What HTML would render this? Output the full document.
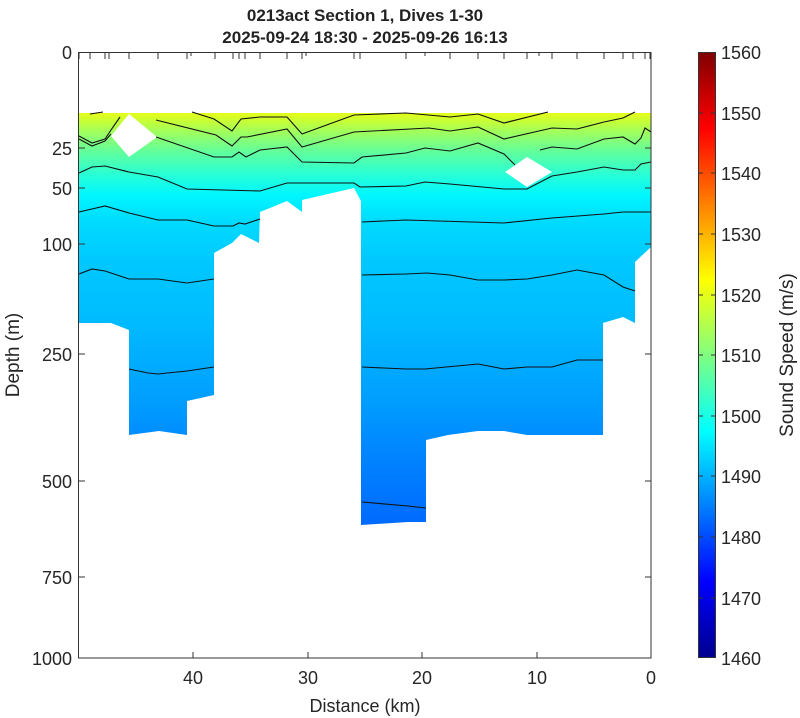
<!DOCTYPE html>
<html><head><meta charset="utf-8"><style>
body{margin:0;background:#fff;}
svg{display:block;font-family:"Liberation Sans",sans-serif;}
</style></head><body>
<svg width="800" height="718" viewBox="0 0 800 718" xmlns="http://www.w3.org/2000/svg">
<defs>
<linearGradient id="dg" gradientUnits="userSpaceOnUse" x1="0" y1="113" x2="0" y2="525">
<stop offset="0" stop-color="#e6ff18"/>
<stop offset="0.04" stop-color="#a8ff55"/>
<stop offset="0.09" stop-color="#66ff98"/>
<stop offset="0.15" stop-color="#28ffd6"/>
<stop offset="0.2" stop-color="#00f6ff"/>
<stop offset="0.26" stop-color="#00dcff"/>
<stop offset="0.36" stop-color="#00c8ff"/>
<stop offset="0.5" stop-color="#00bcff"/>
<stop offset="0.62" stop-color="#00aaff"/>
<stop offset="0.72" stop-color="#009aff"/>
<stop offset="0.82" stop-color="#0086ff"/>
<stop offset="1" stop-color="#006aff"/>
</linearGradient>
<linearGradient id="jet" x1="0" y1="1" x2="0" y2="0">
<stop offset="0" stop-color="#00008f"/>
<stop offset="0.125" stop-color="#0000ff"/>
<stop offset="0.375" stop-color="#00ffff"/>
<stop offset="0.625" stop-color="#ffff00"/>
<stop offset="0.875" stop-color="#ff0000"/>
<stop offset="1" stop-color="#800000"/>
</linearGradient>
</defs>
<text x="365" y="21" text-anchor="middle" font-size="17" font-weight="bold" fill="#222">0213act Section 1, Dives 1-30</text>
<text x="365" y="43" text-anchor="middle" font-size="17" font-weight="bold" fill="#222">2025-09-24 18:30 - 2025-09-26 16:13</text>

<path fill="url(#dg)" fill-rule="evenodd" d="M79,113 L651,113 L651,247 L635,262 L635,323 L623,317 L603,323 L603,435 L527,435 L504,431 L478,431 L448,435 L426,440 L426,522 L408,522 L361,525 L361,201 L354,188 L302,200 L302,212 L287,201 L260,212 L259,243 L241,234 L232,243 L214,253 L214,395 L187,401 L187,435 L159,431 L129,435 L129,330 L111,323 L79,323 Z
M129,114 L111,136 L129,157 L157,137 Z M527,157 L505,172 L527,187 L552,172 Z"/>

<g fill="none" stroke="#111" stroke-width="1.1">
<polyline points="90,114 103,112"/>
<polyline points="192,112 214,119 232,131 241,119 260,117 287,117 302,134 354,115 406,113 450,117 478,114 504,123 548,112"/>
<polyline points="79,136 92,143 105,139 111,130 120,117"/>
<polyline points="156,120 216,135 232,146 241,137 247,137 287,129 302,147 354,132 429,128 450,131 478,127 504,139 552,128 577,129 604,122 623,118 635,112"/>
<polyline points="79,139 92,146 105,141 111,134"/>
<polyline points="156,137 214,157 232,157 239,152 246,157 260,150 287,147 302,162 354,163 362,157 406,153 425,148 450,151 478,143 504,154 515,165"/>
<polyline points="540,150 552,147 577,149 604,139 623,137 635,144 641,138 645,128 651,132"/>
<polyline points="79,173 92,167 105,166 129,172 158,177 187,189 260,191 287,183 354,183 360,187 406,186 425,182 450,184 504,189 527,189 552,176 577,172 604,167 623,170 635,170 641,164 651,162"/>
<polyline points="79,212 105,206 129,213 158,220 187,220 214,226 233,226 239,223 245,224 260,219"/>
<polyline points="362,222 406,220 504,223 552,218 604,214 623,212 651,212"/>
<polyline points="79,274 92,269 105,271 129,279 158,279 187,283 214,279"/>
<polyline points="362,275 406,274 427,273 450,275 478,280 504,280 527,279 552,275 577,270 604,275 623,287 635,291"/>
<polyline points="129,369 148,373 158,374 187,371 214,367"/>
<polyline points="362,367 406,369 425,369 478,364 504,369 527,367 552,367 577,360 603,360"/>
<polyline points="362,502 408,506 426,508"/>
</g>

<rect x="78.5" y="52.5" width="572.5" height="605.5" fill="none" stroke="#333" stroke-width="1"/>
<g stroke="#333" stroke-width="1">
<path d="M79,52v7M90,52v7M105,52v7M109,52v7M129,52v7M158,52v7M187,52v7M191,52v4M215,52v7M233,52v7M239,52v7M245,52v7M260,52v7M287,52v7M302,52v7M306,52v4M354,52v7M360,52v7M406,52v7M425,52v4M450,52v7M478,52v7M504,52v7M527,52v7M539,52v4M552,52v7M577,52v7M604,52v7M623,52v7M633,52v7M645,52v7M650,52v7"/>
<path d="M193,658v-6M308,658v-6M422,658v-6M537,658v-6"/>
<path d="M79,148h6M79,188h6M79,244h6M79,354h6M79,481h6M79,577h6M651,148h-6M651,188h-6M651,244h-6M651,354h-6M651,481h-6M651,577h-6"/>
</g>
<g font-size="18" fill="#262626" text-anchor="end">
<text x="72" y="59">0</text><text x="72" y="155">25</text><text x="72" y="195">50</text><text x="72" y="251">100</text><text x="72" y="361">250</text><text x="72" y="488">500</text><text x="72" y="584">750</text><text x="72" y="665">1000</text>
</g>
<g font-size="18" fill="#262626" text-anchor="middle">
<text x="193" y="684">40</text><text x="308" y="684">30</text><text x="422" y="684">20</text><text x="537" y="684">10</text><text x="651" y="684">0</text>
<text x="365" y="712">Distance (km)</text>
</g>
<text transform="translate(19,355) rotate(-90)" font-size="19" fill="#262626" text-anchor="middle">Depth (m)</text>

<rect x="698.5" y="52.5" width="17" height="605" fill="url(#jet)" stroke="#333" stroke-width="1"/>
<g stroke="#333" stroke-width="1">
<path d="M699,113h4M699,173h4M699,234h4M699,295h4M699,355h4M699,416h4M699,476h4M699,537h4M699,598h4M715,113h-4M715,173h-4M715,234h-4M715,295h-4M715,355h-4M715,416h-4M715,476h-4M715,537h-4M715,598h-4"/>
</g>
<g font-size="18" fill="#262626">
<text x="721" y="59">1560</text><text x="721" y="120">1550</text><text x="721" y="180">1540</text><text x="721" y="241">1530</text><text x="721" y="302">1520</text><text x="721" y="362">1510</text><text x="721" y="423">1500</text><text x="721" y="483">1490</text><text x="721" y="544">1480</text><text x="721" y="605">1470</text><text x="721" y="665">1460</text>
</g>
<text transform="translate(793,355) rotate(-90)" font-size="19" fill="#262626" text-anchor="middle">Sound Speed (m/s)</text>
</svg>
</body></html>
